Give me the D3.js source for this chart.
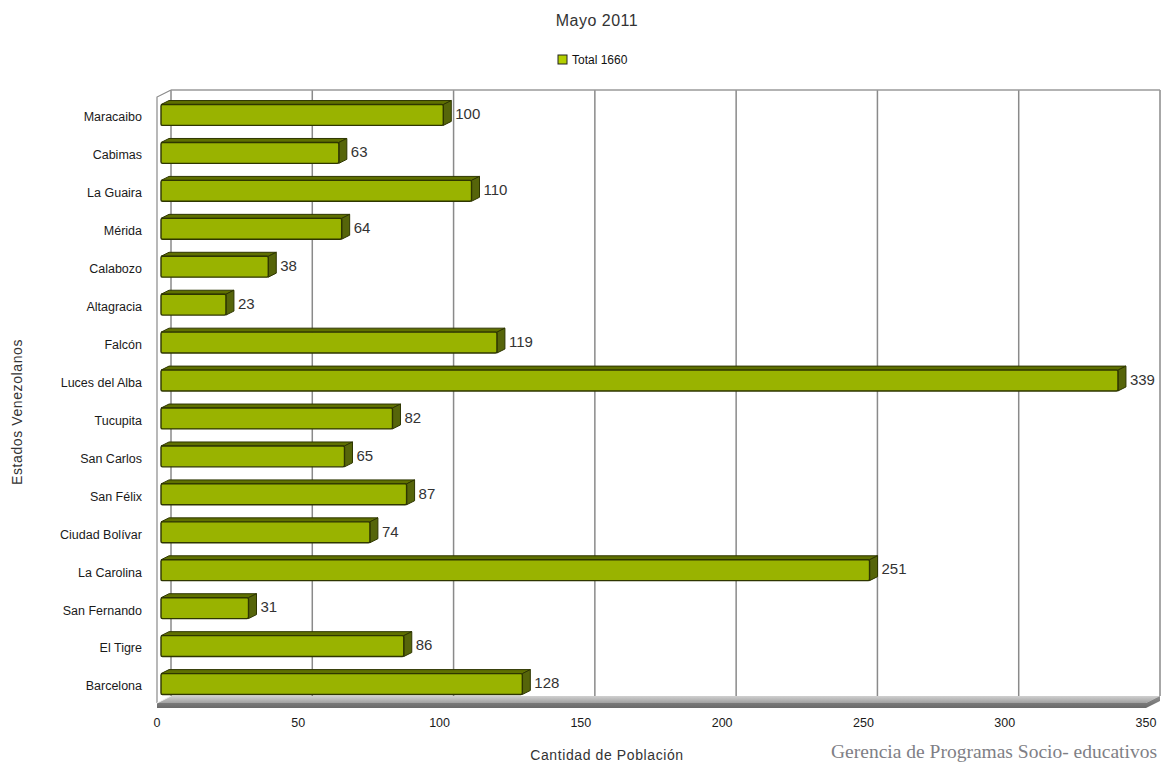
<!DOCTYPE html>
<html><head><meta charset="utf-8">
<script src="https://cdn.jsdelivr.net/npm/d3@7"></script>
<style>body{margin:0;background:#fff}</style>
</head><body>
<script>
const categories = ["Maracaibo","Cabimas","La Guaira","Mérida","Calabozo","Altagracia","Falcón","Luces del Alba","Tucupita","San Carlos","San Félix","Ciudad Bolívar","La Carolina","San Fernando","El Tigre","Barcelona"];
const values = [100,63,110,64,38,23,119,339,82,65,87,74,251,31,86,128];
const tickValues = [0,50,100,150,200,250,300,350];
const seriesName = "Total 1660";

const W=1161,H=763;
const svg=d3.select("body").append("svg").attr("width",W).attr("height",H);
const font="Liberation Sans, Arial, sans-serif";

// 3D geometry
const DX=14, DY=-7;
const xFront=d3.scaleLinear().domain([0,350]).range([157,1146]);
const xBack=d3.scaleLinear().domain([0,350]).range([157+DX,1146+DX]);
const xBar=d3.scaleLinear().domain([0,350]).range([161,1149]);
const y=d3.scaleBand().domain(categories).range([97,704]).paddingInner(0.45).paddingOuter(0.225);
const topBack=90, floorBack=696, floorFront=703;

const defs=svg.append("defs");
const g1=defs.append("linearGradient").attr("id","floorG").attr("x1",0).attr("y1",0).attr("x2",0).attr("y2",1);
g1.append("stop").attr("offset","0%").attr("stop-color","#d0d0d0");
g1.append("stop").attr("offset","100%").attr("stop-color","#a0a0a0");
const g2=defs.append("linearGradient").attr("id","slabG").attr("x1",0).attr("y1",0).attr("x2",0).attr("y2",1);
g2.append("stop").attr("offset","0%").attr("stop-color","#909090");
g2.append("stop").attr("offset","100%").attr("stop-color","#6a6a6a");

svg.append("g").selectAll("line").data(tickValues).join("line")
  .attr("x1",d=>xBack(d)).attr("x2",d=>xBack(d)).attr("y1",topBack).attr("y2",floorBack)
  .attr("stroke","#8a8a8a").attr("stroke-width",1.5);
svg.append("line").attr("x1",xBack(0)).attr("x2",xBack(350)).attr("y1",topBack).attr("y2",topBack)
  .attr("stroke","#9a9a9a").attr("stroke-width",1.5);
svg.append("path").attr("d",`M${xFront(0)},${floorFront} L${xFront(0)},${topBack-DY} L${xBack(0)},${topBack}`)
  .attr("fill","none").attr("stroke","#8a8a8a").attr("stroke-width",1.2);

svg.append("path").attr("d",`M${xBack(0)},${floorBack} L${xBack(350)},${floorBack} L${xFront(350)},${floorFront} L${xFront(0)},${floorFront} Z`)
  .attr("fill","url(#floorG)");
svg.append("path").attr("d",`M${xFront(0)},${floorFront} L${xFront(350)},${floorFront} L${xBack(350)},${floorBack} L${xBack(350)},${floorBack+5} L${xFront(350)},${floorFront+5} L${xFront(0)},${floorFront+5} Z`)
  .attr("fill","url(#slabG)");
svg.append("line").attr("x1",xFront(0)).attr("y1",floorFront).attr("x2",xBack(0)).attr("y2",floorBack)
  .attr("stroke","#f0f0f0").attr("stroke-width",1);

const bh=y.bandwidth();
const bdx=8, bdy=-4;
const bars=svg.append("g").selectAll("g").data(categories.map((c,i)=>({c,v:values[i]}))).join("g");
bars.each(function(d){
  const g=d3.select(this);
  const x0=xBar(0), x1=xBar(d.v);
  const yt=y(d.c)+bdy/2+1, yb=yt+bh;
  g.append("path").attr("d",`M${x0},${yt} L${x0+bdx},${yt+bdy} L${x1+bdx},${yt+bdy} L${x1},${yt} Z`)
    .attr("fill","#5f7000").attr("stroke","#2e3600").attr("stroke-width",1);
  g.append("path").attr("d",`M${x1},${yt} L${x1+bdx},${yt+bdy} L${x1+bdx},${yb+bdy} L${x1},${yb} Z`)
    .attr("fill","#56650a").attr("stroke","#2e3600").attr("stroke-width",1);
  g.append("rect").attr("x",x0).attr("y",yt).attr("width",x1-x0).attr("height",bh).attr("rx",1.5)
    .attr("fill","#99b300").attr("stroke","#2e3600").attr("stroke-width",1.4);
  g.append("text").attr("x",x1+bdx+4).attr("y",yt+bh/2-1).attr("dy","0.35em")
    .attr("font-family",font).attr("font-size",15).attr("fill","#333").text(d.v);
});

svg.append("g").selectAll("text").data(categories).join("text")
  .attr("x",142).attr("y",d=>y(d)+bh/2+1).attr("dy","0.35em").attr("text-anchor","end")
  .attr("font-family",font).attr("font-size",12.5).attr("fill","#1a1a1a").text(d=>d);

svg.append("g").selectAll("text").data(tickValues).join("text")
  .attr("x",d=>xFront(d)).attr("y",723).attr("dy","0.35em").attr("text-anchor","middle")
  .attr("font-family",font).attr("font-size",12.5).attr("fill","#1a1a1a").text(d=>d);

svg.append("text").attr("x",597).attr("y",20).attr("dy","0.35em").attr("text-anchor","middle")
  .attr("font-family",font).attr("font-size",16).attr("letter-spacing",0.5).attr("fill","#333").text("Mayo 2011");
svg.append("rect").attr("x",558).attr("y",55).attr("width",9).attr("height",9)
  .attr("fill","#b3cf00").attr("stroke","#222").attr("stroke-width",1);
svg.append("text").attr("x",572).attr("y",60).attr("dy","0.35em")
  .attr("font-family",font).attr("font-size",12).attr("fill","#111").text(seriesName);

svg.append("text").attr("transform","translate(17,412) rotate(-90)").attr("dy","0.35em").attr("text-anchor","middle")
  .attr("font-family",font).attr("font-size",14).attr("letter-spacing",0.6).attr("fill","#333").text("Estados Venezolanos");
svg.append("text").attr("x",607).attr("y",755).attr("dy","0.35em").attr("text-anchor","middle")
  .attr("font-family",font).attr("font-size",14).attr("letter-spacing",0.6).attr("fill","#333").text("Cantidad de Población");
svg.append("text").attr("x",1157).attr("y",758).attr("text-anchor","end")
  .attr("font-family","Liberation Serif, Times New Roman, serif").attr("font-size",19.5).attr("fill","#7f7f86").text("Gerencia de Programas Socio- educativos");
</script>
</body></html>
